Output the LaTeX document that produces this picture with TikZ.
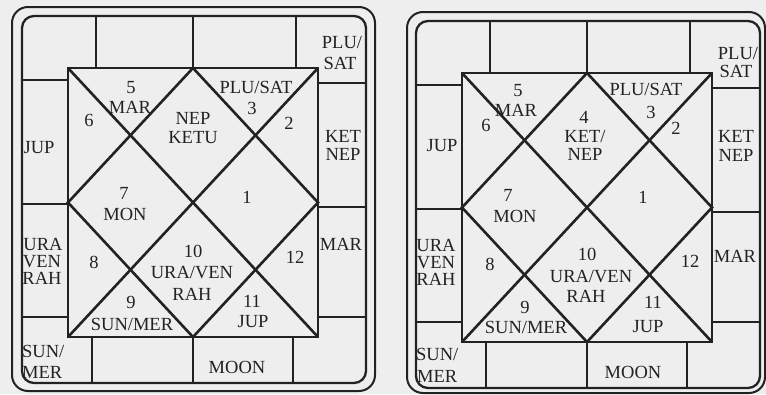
\documentclass[tikz,border=0pt]{standalone}
\usepackage{fontspec}
\setmainfont{Liberation Serif}
\definecolor{ink}{HTML}{222222}
\definecolor{paper}{HTML}{EEEEEE}
\tikzset{
  gridline/.style={draw=ink, line width=2.6pt, line join=miter},
  frame/.style={draw=ink, line width=2pt, rounded corners=16pt},
  innerframe/.style={draw=ink, line width=2.3pt, rounded corners=12pt},
  lbl/.style={text=ink, inner sep=0pt, text height=13pt, text depth=1pt,
    font=\fontsize{18.5}{20}\selectfont},
}
\newcommand{\chartlines}{%
  \coordinate (iTL) at (22,16);
  \coordinate (iBR) at (366,383);
  \coordinate (sTL) at (68,68);
  \coordinate (sTR) at (318,68);
  \coordinate (sBR) at (318,337);
  \coordinate (sBL) at (68,337);
  \coordinate (sT) at (193,68);
  \coordinate (sB) at (193,337);
  \coordinate (sL) at (68,202.5);
  \coordinate (sR) at (318,202.5);
  \draw[innerframe] (iTL) rectangle (iBR);
  \draw[gridline] (sTL) -- (sTR) -- (sBR) -- (sBL) -- cycle;
  \draw[gridline] (sTL) -- (sBR) (sTR) -- (sBL);
  \draw[gridline] (sT) -- (sR) -- (sB) -- (sL) -- cycle;
  \coordinate (t1) at (96,16);
  \coordinate (t2) at (193,16);
  \coordinate (t3) at (296,16);
  \coordinate (t1s) at (96,68);
  \coordinate (t3s) at (296,68);
  \draw[gridline] (t1) -- (t1s) (t2) -- (sT) (t3) -- (t3s);
  \coordinate (b1) at (92,383);
  \coordinate (b2) at (193,383);
  \coordinate (b3) at (293,383);
  \coordinate (b1s) at (92,337);
  \coordinate (b3s) at (293,337);
  \draw[gridline] (b1) -- (b1s) (b2) -- (sB) (b3) -- (b3s);
  \coordinate (l1) at (22,80);   \coordinate (l1s) at (68,80);
  \coordinate (l2) at (22,204);  \coordinate (l2s) at (68,204);
  \coordinate (l3) at (22,317);  \coordinate (l3s) at (68,317);
  \draw[gridline] (l1) -- (l1s) (l2) -- (l2s) (l3) -- (l3s);
  \coordinate (r1) at (366,83);  \coordinate (r1s) at (318,83);
  \coordinate (r2) at (366,207); \coordinate (r2s) at (318,207);
  \coordinate (r3) at (366,317); \coordinate (r3s) at (318,317);
  \draw[gridline] (r1) -- (r1s) (r2) -- (r2s) (r3) -- (r3s);
}
\begin{document}
\begin{tikzpicture}[x=1pt, y=-1pt]
  \fill[paper] (0,0) rectangle (766,394);
  \useasboundingbox (0,0) rectangle (766,394);
  % outer frames
  \coordinate (LoTL) at (12,7);   \coordinate (LoBR) at (375,391);
  \coordinate (RoTL) at (407,12); \coordinate (RoBR) at (765,393);
  \draw[frame] (LoTL) rectangle (LoBR);
  \draw[frame] (RoTL) rectangle (RoBR);
  \begin{scope}[name prefix=L-]
    \chartlines
  \end{scope}
  \begin{scope}[shift={(394,5)}, name prefix=R-]
    \chartlines
  \end{scope}
  % ---- left chart labels ----
  \node[lbl] (Lt1) at (342,42) {PLU/};
  \node[lbl] (Lt2) at (340,63) {SAT};
  \node[lbl] (Lt3) at (39,147) {JUP};
  \node[lbl] (Lt4) at (343,136) {KET};
  \node[lbl] (Lt5) at (343,154) {NEP};
  \node[lbl] (Lt6) at (131,87) {5};
  \node[lbl] (Lt7) at (130,107) {MAR};
  \node[lbl] (Lt8) at (89,120) {6};
  \node[lbl] (Lt9) at (193,118) {NEP};
  \node[lbl] (Lt10) at (193,137) {KETU};
  \node[lbl] (Lt11) at (256,87) {PLU/SAT};
  \node[lbl] (Lt12) at (252,108) {3};
  \node[lbl] (Lt13) at (289,123) {2};
  \node[lbl] (Lt14) at (124,193) {7};
  \node[lbl] (Lt15) at (125,214) {MON};
  \node[lbl] (Lt16) at (247,197) {1};
  \node[lbl] (Lt17) at (43,244) {URA};
  \node[lbl] (Lt18) at (42,261) {VEN};
  \node[lbl] (Lt19) at (42,278) {RAH};
  \node[lbl] (Lt20) at (94,262) {8};
  \node[lbl] (Lt21) at (193,251) {10};
  \node[lbl] (Lt22) at (192,272) {URA/VEN};
  \node[lbl] (Lt23) at (192,294) {RAH};
  \node[lbl] (Lt24) at (295,257) {12};
  \node[lbl] (Lt25) at (341,244) {MAR};
  \node[lbl] (Lt26) at (131,302) {9};
  \node[lbl] (Lt27) at (132,324) {SUN/MER};
  \node[lbl] (Lt28) at (252,301) {11};
  \node[lbl] (Lt29) at (253,321) {JUP};
  \node[lbl, anchor=west] (Lt30) at (22,351) {SUN/};
  \node[lbl, anchor=west] (Lt31) at (22,372) {MER};
  \node[lbl] (Lt32) at (237,367) {MOON};
  % ---- right chart labels ----
  \node[lbl] (Rt1) at (738,53) {PLU/};
  \node[lbl] (Rt2) at (736,71) {SAT};
  \node[lbl] (Rt3) at (442,145) {JUP};
  \node[lbl] (Rt4) at (736,136) {KET};
  \node[lbl] (Rt5) at (736,155) {NEP};
  \node[lbl] (Rt6) at (518,90) {5};
  \node[lbl] (Rt7) at (516,110) {MAR};
  \node[lbl] (Rt8) at (486,125) {6};
  \node[lbl] (Rt9) at (584,117) {4};
  \node[lbl] (Rt10) at (585,136) {KET/};
  \node[lbl] (Rt11) at (585,154) {NEP};
  \node[lbl] (Rt12) at (646,89) {PLU/SAT};
  \node[lbl] (Rt13) at (651,112) {3};
  \node[lbl] (Rt14) at (676,128) {2};
  \node[lbl] (Rt15) at (508,195) {7};
  \node[lbl] (Rt16) at (515,216) {MON};
  \node[lbl] (Rt17) at (643,197) {1};
  \node[lbl] (Rt18) at (436,245) {URA};
  \node[lbl] (Rt19) at (436,262) {VEN};
  \node[lbl] (Rt20) at (436,279) {RAH};
  \node[lbl] (Rt21) at (490,264) {8};
  \node[lbl] (Rt22) at (587,254) {10};
  \node[lbl] (Rt23) at (591,276) {URA/VEN};
  \node[lbl] (Rt24) at (586,296) {RAH};
  \node[lbl] (Rt25) at (690,261) {12};
  \node[lbl] (Rt26) at (735,256) {MAR};
  \node[lbl] (Rt27) at (525,307) {9};
  \node[lbl] (Rt28) at (526,327) {SUN/MER};
  \node[lbl] (Rt29) at (653,302) {11};
  \node[lbl] (Rt30) at (648,326) {JUP};
  \node[lbl, anchor=west] (Rt31) at (416,354) {SUN/};
  \node[lbl, anchor=west] (Rt32) at (417,376) {MER};
  \node[lbl] (Rt33) at (633,372) {MOON};
\end{tikzpicture}
\end{document}
